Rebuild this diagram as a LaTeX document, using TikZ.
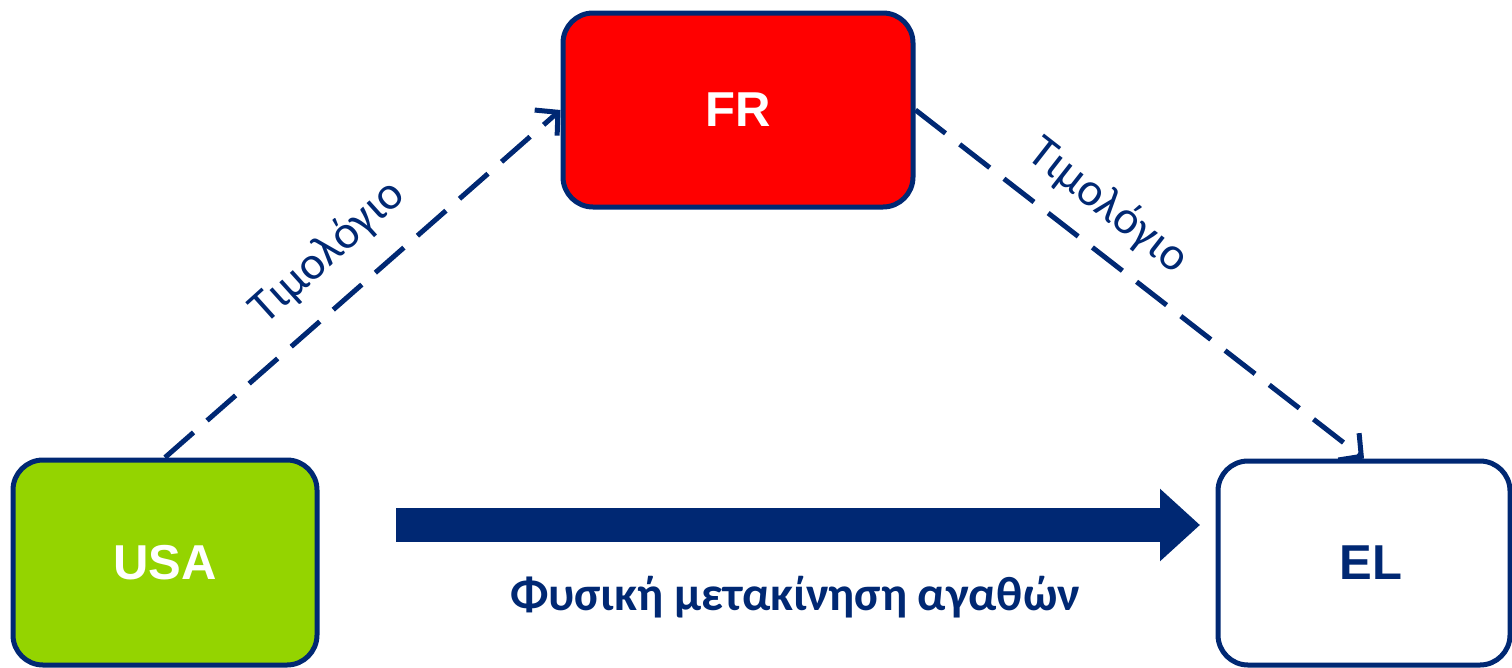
\documentclass[tikz,border=0pt]{standalone}
\usepackage{fontspec}
\setmainfont{Liberation Sans}
\newfontfamily\calib{Carlito}
\usetikzlibrary{arrows.meta}
\definecolor{navy}{RGB}{0,40,115}
\definecolor{frred}{RGB}{255,0,0}
\definecolor{usagreen}{RGB}{148,212,0}
\tikzset{
  country/.style={draw=navy, line width=5pt, rounded corners=30pt, inner sep=0pt, font=\fontsize{49}{58}\selectfont\bfseries},
  invoice/.style={draw=navy, line width=5pt, dash pattern=on 38pt off 18pt, -{Straight Barb[length=16pt,width=34pt,line width=5pt]}},
  invlabel/.style={text=navy, font=\calib\fontsize{47}{54}\selectfont},
  goods/.style={draw=navy, line width=34pt, -{Triangle[length=40pt,width=70pt]}},
}
\begin{document}
\begin{tikzpicture}[x=1pt,y=-1pt]
\useasboundingbox (0,0) rectangle (1512,667);
\node[country, fill=frred, text=white, minimum width=350pt, minimum height=194pt] (FR) at (738,110) {FR};
\node[country, fill=usagreen, text=white, minimum width=304pt, minimum height=205pt] (USA) at (165,562.5) {\raisebox{-3pt}{USA}};
\node[country, fill=white, text=navy, minimum width=292pt, minimum height=204pt] (EL) at (1364,563) {\hspace*{14pt}\raisebox{-6pt}{EL}};
\draw[invoice] (USA.north) -- (FR.west);
\draw[invoice] (FR.east) -- (EL.north);
\coordinate (g0) at (396,525);
\coordinate (g1) at (1200,525);
\draw[goods] (g0) -- (g1);
\node[invlabel, rotate=42] (l1) at (328,252) {Τιμολόγιο};
\node[invlabel, rotate=-38] (l2) at (1108,206) {Τιμολόγιο};
\node[text=navy, font=\calib\bfseries\fontsize{48}{56}\selectfont] (lg) at (795,597) {Φυσική μετακίνηση αγαθών};
\end{tikzpicture}
\end{document}
